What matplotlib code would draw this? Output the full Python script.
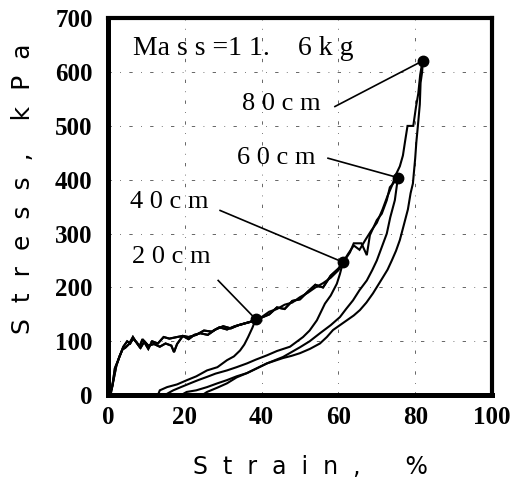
import matplotlib
matplotlib.use("Agg")
import matplotlib.pyplot as plt

# loading branch shared by the 20 cm / 60 cm tests
load_a_strain = [0, 0.8, 1.2, 1.8, 2.5, 3.2, 4.0, 5.0, 5.8, 6.5, 7.5, 8.5, 9.5, 10.5, 12, 13.5,
                 15, 16.5, 17.2, 18, 19.5, 21, 23, 25, 27, 29, 31, 33, 35, 37, 38.5]
load_a_stress = [0, 5, 20, 50, 62, 75, 90, 100, 96, 105, 98, 88, 100, 92, 95, 90,
                 96, 92, 80, 95, 110, 108, 112, 120, 118, 126, 122, 128, 132, 136, 141]
load_a2_strain = [40, 42, 44, 46, 48, 50, 52, 54, 56, 58, 60, 61.3, 63, 64, 66, 67.4, 68.2,
                  70, 71.3, 72.6, 73.4, 74.5, 75.5]
load_a2_stress = [145, 155, 160, 168, 172, 182, 190, 200, 208, 218, 232, 247, 265, 282, 282, 260, 297,
                  325, 337, 362, 386, 395, 404]

# loading branch shared by the 40 cm / 80 cm tests
load_b_strain = [0, 1.0, 1.5, 2.2, 3.0, 3.8, 4.5, 5.5, 6.5, 7.2, 8.2, 9.0, 10.5, 11.5, 13, 14.5,
                 16, 18, 19.5, 21, 22.5, 24, 26, 28, 30, 32, 34, 36, 38, 40, 42, 44, 46, 48, 50,
                 52, 54, 56, 58, 60, 61.2]
load_b_stress = [0, 12, 30, 55, 72, 85, 88, 95, 108, 100, 90, 104, 86, 100, 96, 108,
                 105, 108, 110, 104, 112, 115, 112, 122, 128, 124, 130, 134, 138, 144, 150, 163, 160, 175, 178,
                 192, 205, 200, 222, 235, 247]
load_b2_strain = [62.5, 64, 65.5, 67, 68.5, 70, 71.5, 72.8, 74, 75, 76, 76.8, 77.4, 78, 79.5,
                  80.2, 80.8, 81.3, 81.7, 82]
load_b2_stress = [262, 278, 270, 288, 305, 320, 345, 370, 390, 410, 425, 445, 473, 500, 500,
                  535, 560, 595, 612, 621]

# unloading branches
unload20_strain = [38.5, 37.6, 36.5, 35.5, 34.4, 32.8, 31, 28.5, 25.8, 23, 20.6, 18, 15.4, 13.5, 13]
unload20_stress = [141, 125, 108, 94, 83, 72, 65, 52, 46, 35, 28, 20, 15, 9, 0]
unload40_strain = [61.2, 60.4, 59.6, 58, 56.5, 54.4, 52.5, 50.8, 47.4, 44, 41.4, 38.5, 36.2,
                   33.5, 31, 28, 25.8, 23.5, 21.4, 19, 17, 15.5]
unload40_stress = [247, 225, 207, 185, 170, 139, 120, 108, 90, 82, 74, 66, 59,
                   52, 46, 40, 34, 28, 22, 15, 9, 3]
unload60_strain = [75.5, 74.7, 73.5, 72.6, 71.3, 70, 68.8, 67.4, 65.5, 63.8, 62, 60.4, 58, 55.2,
                   52.5, 50, 47.8, 45.6, 43.5, 41.4, 38.8, 36.2, 33.5, 31, 28.5, 25.8, 23, 20.5, 19]
unload60_stress = [404, 362, 330, 300, 275, 250, 232, 213, 195, 176, 160, 145, 130, 115,
                   100, 89, 80, 71, 65, 59, 50, 41, 35, 28, 22, 15, 9, 6, 0]
unload80_strain = [82, 81.8, 81.4, 81.2, 80.7, 80.3, 80, 79.4, 78.8, 78.1, 77, 76, 75, 73.9, 72.8,
                   71.6, 70.3, 69, 67.3, 65.6, 64, 62.2, 60.4, 58.6, 57, 55.2, 52.6, 50, 47.8,
                   45.6, 43.5, 41.4, 38.8, 36.2, 33.5, 31, 28.5, 25.8, 24.5]
unload80_stress = [621, 600, 580, 540, 500, 470, 440, 393, 375, 345, 315, 288, 268, 250, 233,
                   219, 204, 189, 172, 158, 148, 139, 130, 121, 108, 96, 86, 78, 73,
                   69, 64, 59, 50, 41, 33, 22, 14, 6, 0]

drop_labels = ["8 0 c m", "6 0 c m", "4 0 c m", "2 0 c m"]
peak_strain = [82.0, 75.5, 61.2, 38.5]
peak_stress = [621, 404, 247, 141]
label_xy = [(34.9, 540), (33.6, 440), (5.7, 358), (6.2, 256)]
leader_start = [(59.1, 536), (57.3, 440), (29.2, 343), (28.7, 213)]

x_ticks = [0, 20, 40, 60, 80, 100]
y_ticks = [0, 100, 200, 300, 400, 500, 600, 700]

fig = plt.figure(figsize=(5.19, 4.79), dpi=100)
ax = fig.add_axes([0.208, 0.175, 0.74, 0.787])

curves = [
    (load_a_strain, load_a_stress, unload20_strain, unload20_stress),
    (load_b_strain, load_b_stress, unload40_strain, unload40_stress),
    (load_a_strain + load_a2_strain, load_a_stress + load_a2_stress, unload60_strain, unload60_stress),
    (load_b_strain + load_b2_strain, load_b_stress + load_b2_stress, unload80_strain, unload80_stress),
]
for ls, lp, us, up in curves:
    ax.plot(ls + us, lp + up, color="black", lw=1.5, solid_joinstyle="miter")

ax.plot(peak_strain, peak_stress, "o", color="black", ms=7.5, zorder=5)

for text, (tx, ty), (sx, sy), px, py in zip(drop_labels, label_xy, leader_start, peak_strain, peak_stress):
    ax.text(tx, ty, text, fontsize=19, family="Liberation Serif", va="center", ha="left")
    ax.plot([sx, px], [sy, py], color="black", lw=1.2)

ax.text(6.5, 644, "Ma s s =1 1.    6 k g", fontsize=20, family="Liberation Serif",
        va="center", ha="left")

ax.set_xlim(0, 100)
ax.set_ylim(0, 700)
ax.set_xticks(x_ticks)
ax.set_yticks(y_ticks)
ax.tick_params(length=0, labelsize=18)
ax.tick_params(axis="y", pad=11)
ax.tick_params(axis="x", pad=8)
for lab in ax.get_xticklabels() + ax.get_yticklabels():
    lab.set_family("Liberation Serif")
    lab.set_fontweight("bold")

ax.grid(True, color="0.3", lw=0.6, linestyle=(0, (4, 10, 1, 10)))
for side in ["left", "bottom"]:
    ax.spines[side].set_linewidth(3.6)
for side in ["top", "right"]:
    ax.spines[side].set_linewidth(3.0)

fig.text(0.044, 0.605, "S  t  r  e  s  s  ,    k  P  a", rotation=90, fontsize=18,
         ha="center", va="center")
fig.text(0.598, 0.025, "S  t  r  a  i  n  ,      %", fontsize=17, ha="center", va="center")

fig.savefig("out.png", dpi=100)
